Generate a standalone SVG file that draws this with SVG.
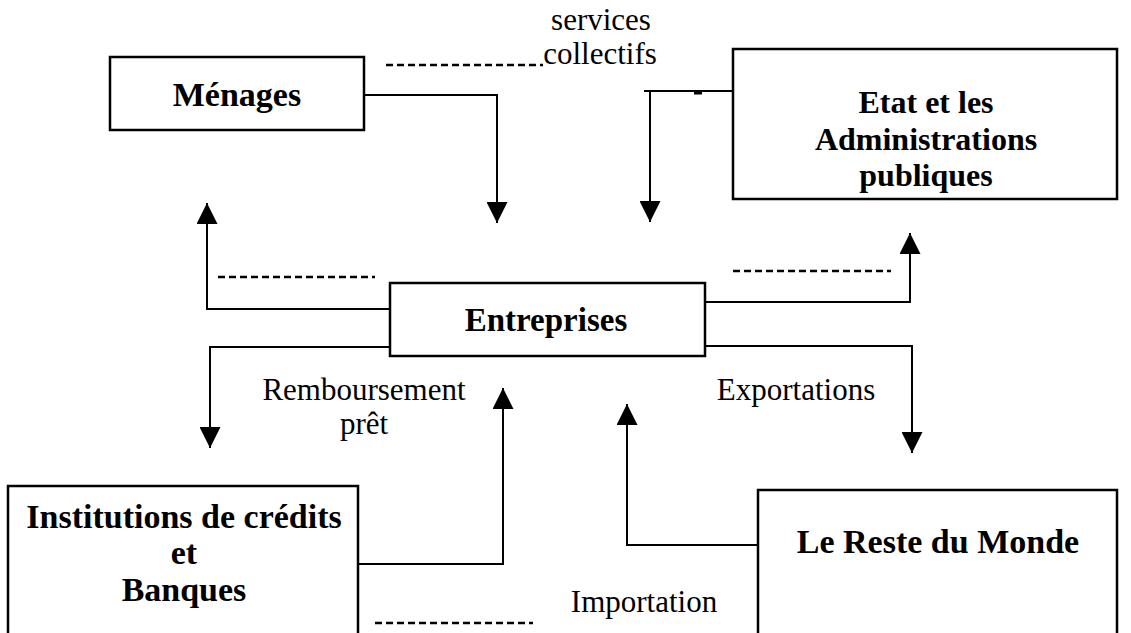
<svg xmlns="http://www.w3.org/2000/svg" width="1131" height="633" viewBox="0 0 1131 633">
<style>
.box{fill:#fff;stroke:#000;stroke-width:2.5}
.b{font-family:"Liberation Serif","Times New Roman",serif;font-weight:bold;font-size:33px;fill:#000;text-anchor:middle}
.r{font-family:"Liberation Serif","Times New Roman",serif;font-size:31px;fill:#000;text-anchor:middle}
.ln{fill:none;stroke:#000;stroke-width:2}
.dash{fill:none;stroke:#000;stroke-width:2.5;stroke-dasharray:7 4}
</style>
<defs>
<marker id="ah" viewBox="0 0 20 20" refX="20" refY="10" markerWidth="21" markerHeight="21" markerUnits="userSpaceOnUse" orient="auto">
<path d="M0,0 L20,10 L0,20 Z" fill="#000"/>
</marker>
</defs>
<rect width="1131" height="633" fill="#fff"/>
<g id="connectors">
<polyline class="ln" points="364,95 497,95 497,223" marker-end="url(#ah)"/>
<polyline class="ln" points="733,91 644,91"/>
<line class="ln" x1="650" y1="91" x2="650" y2="222" marker-end="url(#ah)"/>
<line x1="694" y1="93" x2="702" y2="93" stroke="#000" stroke-width="3"/>
<polyline class="ln" points="390,309 207,309 207,203" marker-end="url(#ah)"/>
<polyline class="ln" points="390,347 210,347 210,448" marker-end="url(#ah)"/>
<polyline class="ln" points="705,302 910,302 910,233" marker-end="url(#ah)"/>
<polyline class="ln" points="705,346 912,346 912,453" marker-end="url(#ah)"/>
<polyline class="ln" points="358,564 503,564 503,388" marker-end="url(#ah)"/>
<polyline class="ln" points="758,545 627,545 627,404" marker-end="url(#ah)"/>
<line class="dash" x1="386" y1="65" x2="543" y2="65"/>
<line class="dash" x1="218" y1="277" x2="375" y2="277"/>
<line class="dash" x1="733" y1="271" x2="891" y2="271"/>
<line class="dash" x1="375" y1="623" x2="533" y2="623"/>
</g>
<g id="labels">
<text class="r" x="601" y="30">services</text>
<text class="r" x="600" y="64">collectifs</text>
<text class="r" x="364" y="400">Remboursement</text>
<text class="r" x="364" y="434">prêt</text>
<text class="r" x="796" y="400">Exportations</text>
<text class="r" x="644" y="612">Importation</text>
</g>
<g id="menages">
<rect class="box" x="110" y="57" width="254" height="73"/>
<text class="b" x="237" y="106" style="font-size:34px">Ménages</text>
</g>
<g id="etat">
<rect class="box" x="733" y="49" width="384" height="150"/>
<text class="b" x="926" y="113" style="font-size:32px">Etat et les</text>
<text class="b" x="926" y="150" style="font-size:32px">Administrations</text>
<text class="b" x="926" y="186" style="font-size:32px">publiques</text>
</g>
<g id="entreprises">
<rect class="box" x="390" y="283" width="315" height="73"/>
<text class="b" x="546" y="331">Entreprises</text>
</g>
<g id="institutions">
<rect class="box" x="8" y="486" width="350" height="150"/>
<text class="b" x="184" y="528" style="font-size:34px">Institutions de crédits</text>
<text class="b" x="184" y="564" style="font-size:34px">et</text>
<text class="b" x="184" y="601" style="font-size:34px">Banques</text>
</g>
<g id="reste">
<rect class="box" x="758" y="490" width="359" height="150"/>
<text class="b" x="938" y="553" style="font-size:34px">Le Reste du Monde</text>
</g>
</svg>
